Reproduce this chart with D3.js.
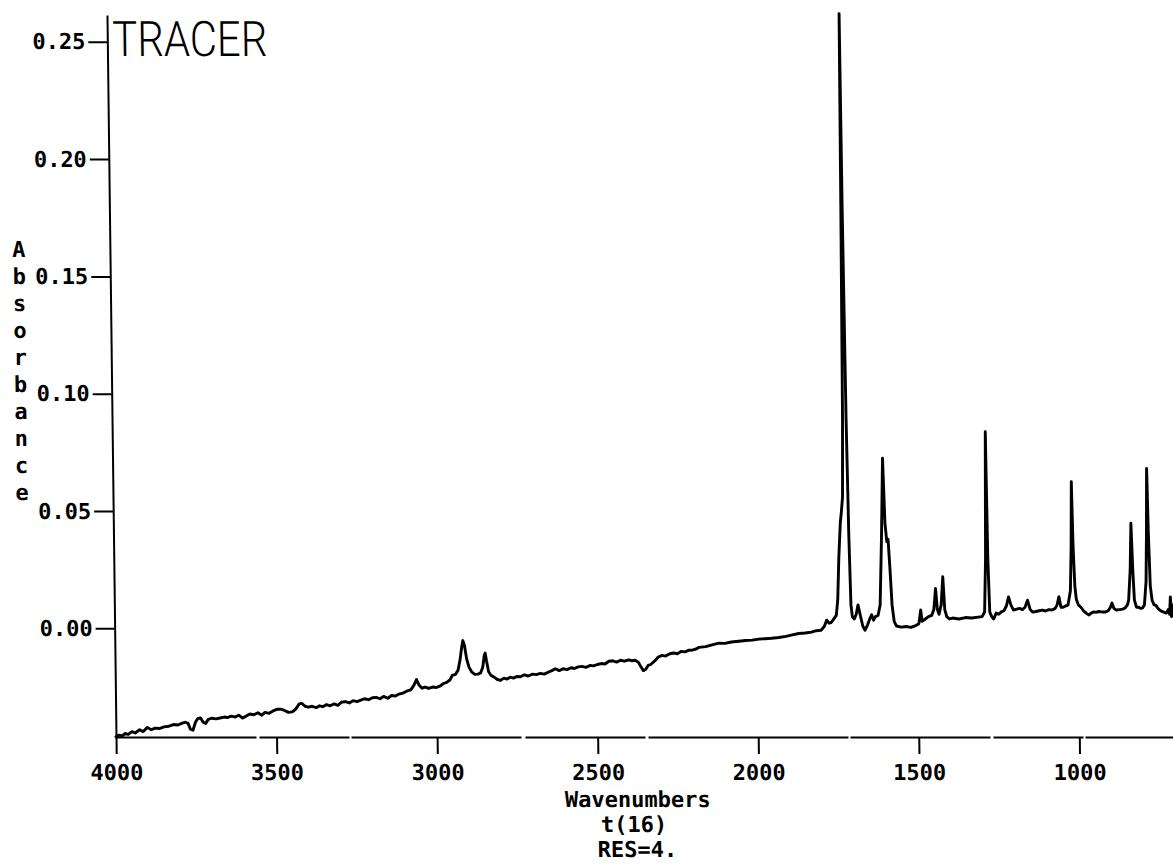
<!DOCTYPE html>
<html><head><meta charset="utf-8">
<script src="https://cdn.jsdelivr.net/npm/d3@7"></script>
<style>
html,body{margin:0;padding:0;background:#fff;}
svg{display:block;}
</style></head>
<body>
<svg id="chart" width="1173" height="864"></svg>
<script>
// ---- data ----
const wavenumbers = [
4000,3990,3980,3972,3962,3950,3940,3926,3915,3902,3890,3878,3865,3850,3835,3820,3807,3795,3783,3775,
3768,3760,3752,3745,3736,3728,3720,3712,3700,3688,3675,3662,3653,3640,3628,3617,3605,3595,3582,3570,
3557,3545,3535,3522,3510,3498,3486,3474,3462,3450,3440,3428,3420,3410,3400,3388,3375,3365,3355,3343,
3332,3319,3308,3297,3284,3272,3260,3248,3236,3225,3212,3200,3188,3176,3165,3152,3140,3128,3117,3105,
3093,3080,3070,3062,3055,3045,3035,3025,3012,3000,2988,2978,2968,2958,2950,2940,2932,2925,2920,2916,
2911,2905,2898,2890,2880,2870,2862,2855,2850,2847,2843,2837,2830,2820,2810,2800,2790,2780,2770,2760,
2750,2738,2726,2714,2700,2689,2676,2664,2650,2640,2629,2617,2605,2593,2580,2570,2558,2546,2534,2520,
2510,2498,2486,2474,2462,2450,2438,2426,2414,2400,2390,2380,2370,2362,2355,2348,2340,2332,2320,2308,
2296,2285,2272,2260,2248,2236,2224,2213,2200,2190,2181,2160,2140,2119,2100,2080,2057,2035,2015,1994,
1975,1955,1932,1910,1890,1870,1850,1830,1815,1800,1790,1782,1775,1768,1760,1752,1747,1742,1736,1732,
1728,1725,1722,1720,1718,1714,1710,1706,1702,1696,1690,1684,1678,1670,1663,1655,1648,1642,1636,1630,
1622,1615,1608,1602,1597,1592,1588,1583,1578,1572,1565,1550,1535,1520,1505,1495,1489,1485,1475,1465,
1455,1448,1442,1437,1432,1425,1419,1414,1408,1400,1390,1370,1350,1330,1310,1298,1290,1285,1281,1278,
1274,1268,1262,1254,1246,1238,1230,1222,1215,1208,1200,1190,1181,1172,1164,1156,1148,1140,1130,1120,
1110,1100,1090,1080,1070,1064,1058,1052,1045,1038,1030,1022,1018,1015,1012,1008,1004,998,990,982,
974,965,958,950,943,935,925,913,905,898,893,887,880,870,860,852,845,841,835,831,
827,823,817,810,804,798,792,786,783,780,777,773,768,762,756,750,744,738,730,724,
718,714,711,708,703,698
];
const absorbance = [
-0.0462,-0.0455,-0.0458,-0.0448,-0.0452,-0.0440,-0.0446,-0.0432,-0.0440,-0.0422,-0.0432,-0.0425,-0.0427,-0.0420,-0.0417,-0.0410,-0.0412,-0.0405,-0.0400,-0.0405,
-0.0430,-0.0434,-0.0400,-0.0385,-0.0382,-0.0400,-0.0405,-0.0388,-0.0383,-0.0386,-0.0382,-0.0378,-0.0380,-0.0374,-0.0378,-0.0370,-0.0382,-0.0375,-0.0365,-0.0368,
-0.0360,-0.0370,-0.0358,-0.0362,-0.0352,-0.0345,-0.0344,-0.0350,-0.0358,-0.0356,-0.0345,-0.0322,-0.0320,-0.0332,-0.0336,-0.0332,-0.0338,-0.0330,-0.0334,-0.0325,
-0.0330,-0.0322,-0.0328,-0.0315,-0.0312,-0.0318,-0.0308,-0.0312,-0.0306,-0.0300,-0.0304,-0.0296,-0.0294,-0.0300,-0.0290,-0.0298,-0.0286,-0.0288,-0.0280,-0.0276,
-0.0268,-0.0262,-0.0242,-0.0218,-0.0240,-0.0255,-0.0250,-0.0256,-0.0250,-0.0252,-0.0245,-0.0235,-0.0230,-0.0220,-0.0200,-0.0196,-0.0178,-0.0130,-0.0080,-0.0052,
-0.0075,-0.0130,-0.0165,-0.0185,-0.0196,-0.0195,-0.0190,-0.0165,-0.0115,-0.0105,-0.0140,-0.0185,-0.0200,-0.0208,-0.0218,-0.0222,-0.0212,-0.0216,-0.0208,-0.0212,
-0.0205,-0.0206,-0.0198,-0.0203,-0.0195,-0.0197,-0.0192,-0.0195,-0.0186,-0.0180,-0.0172,-0.0180,-0.0172,-0.0176,-0.0168,-0.0171,-0.0164,-0.0162,-0.0166,-0.0158,
-0.0160,-0.0154,-0.0150,-0.0152,-0.0140,-0.0138,-0.0144,-0.0136,-0.0140,-0.0134,-0.0138,-0.0136,-0.0145,-0.0165,-0.0180,-0.0175,-0.0158,-0.0154,-0.0140,-0.0122,
-0.0115,-0.0118,-0.0108,-0.0105,-0.0108,-0.0098,-0.0100,-0.0093,-0.0092,-0.0088,-0.0081,-0.0078,-0.0070,-0.0063,-0.0064,-0.0058,-0.0055,-0.0052,-0.0050,-0.0046,
-0.0044,-0.0042,-0.0039,-0.0034,-0.0028,-0.0022,-0.0020,-0.0016,-0.0010,-0.0008,0.0008,0.0035,0.0022,0.0025,0.0040,0.0055,0.0120,0.0300,0.0450,0.0500,
0.0560,0.0900,0.1800,0.2620,0.1800,0.0900,0.0400,0.0100,0.0050,0.0040,0.0060,0.0100,0.0060,0.0010,-0.0008,0.0015,0.0040,0.0058,0.0035,0.0050,
0.0055,0.0100,0.0400,0.0725,0.0450,0.0370,0.0380,0.0250,0.0100,0.0030,0.0010,0.0005,0.0008,0.0004,0.0012,0.0020,0.0078,0.0030,0.0040,0.0050,
0.0055,0.0080,0.0170,0.0080,0.0060,0.0100,0.0220,0.0080,0.0050,0.0040,0.0044,0.0040,0.0046,0.0044,0.0048,0.0050,0.0070,0.0300,0.0838,0.0300,
0.0070,0.0050,0.0040,0.0065,0.0060,0.0070,0.0075,0.0095,0.0134,0.0100,0.0078,0.0082,0.0085,0.0080,0.0090,0.0120,0.0080,0.0069,0.0072,0.0075,
0.0078,0.0074,0.0080,0.0078,0.0085,0.0100,0.0135,0.0090,0.0090,0.0095,0.0100,0.0160,0.0350,0.0625,0.0350,0.0180,0.0125,0.0100,0.0090,0.0075,
0.0065,0.0057,0.0065,0.0070,0.0068,0.0072,0.0070,0.0070,0.0075,0.0090,0.0108,0.0085,0.0078,0.0080,0.0082,0.0087,0.0100,0.0120,0.0250,0.0448,
0.0250,0.0120,0.0090,0.0090,0.0085,0.0087,0.0100,0.0200,0.0400,0.0682,0.0400,0.0180,0.0120,0.0100,0.0098,0.0085,0.0078,0.0072,0.0068,0.0065,
0.0080,0.0060,0.0134,0.0050,0.0100,0.0080
];
const xTickValues = [4000, 3500, 3000, 2500, 2000, 1500, 1000];
const yTickValues = [0.00, 0.05, 0.10, 0.15, 0.20, 0.25];
const titleText = "TRACER";
const yTitleText = "Absorbance";
const xTitleLines = ["Wavenumbers", "t(16)", "RES=4."];

// ---- drawing ----
const W = 1173, H = 864;
const svg = d3.select("#chart");
svg.append("rect").attr("width", W).attr("height", H).attr("fill", "#fff");

const x = d3.scaleLinear().domain([4000, 650]).range([116, 116 + 3350 * 0.3211]);
const y = d3.scaleLinear().domain([-0.0463, 0.2614]).range([737, 15]);

// slight tilt of the scanned plot
const k = 0.0125;
const g = svg.append("g")
  .attr("transform", `translate(${-k * 737},0) skewX(${Math.atan(k) * 180 / Math.PI})`);

const mono = "'DejaVu Sans Mono', 'Liberation Mono', monospace";

// y axis
const yAxis = g.append("g").attr("transform", `translate(${x(4000)},0)`)
  .call(d3.axisLeft(y).tickValues(yTickValues).tickSize(19).tickSizeOuter(0)
    .tickPadding(3).tickFormat(d3.format(".2f")));
// x axis
const xAxis = g.append("g").attr("transform", `translate(0,${y.range()[0]})`)
  .call(d3.axisBottom(x).tickValues(xTickValues).tickSize(17).tickSizeOuter(0)
    .tickPadding(10).tickFormat(d3.format("d")));

[yAxis, xAxis].forEach(a => {
  a.select(".domain").attr("stroke", "#000").attr("stroke-width", 2);
  a.selectAll(".tick line").attr("stroke", "#000").attr("stroke-width", 2);
  a.selectAll(".tick text").attr("fill", "#000")
    .style("font-family", mono).style("font-weight", "bold").style("font-size", "22px");
});
// broken plotter baseline (mostly solid with small gaps)
xAxis.select(".domain").attr("stroke-dasharray", "140 3 90 2 170 4 120 3 200 2");

// spectrum
const pts = wavenumbers.map((w, i) => [w, absorbance[i]]);
g.append("path").datum(pts)
  .attr("fill", "none").attr("stroke", "#000").attr("stroke-width", 2.9)
  .attr("stroke-linejoin", "round").attr("stroke-linecap", "round")
  .attr("d", d3.line().x(d => x(d[0])).y(d => y(d[1])));

// title
g.append("text").attr("x", 121).attr("y", 56)
  .attr("textLength", 155).attr("lengthAdjust", "spacingAndGlyphs")
  .style("font-family", "Roboto, 'DejaVu Sans', sans-serif").style("font-weight", 300)
  .style("font-size", "49px").attr("fill", "#000").text(titleText);

// vertical y title
g.append("g").selectAll("text").data(yTitleText.split("")).join("text")
  .attr("x", 25).attr("y", (d, i) => 257 + i * 27)
  .attr("text-anchor", "middle").attr("fill", "#000")
  .style("font-family", mono).style("font-weight", "bold").style("font-size", "22px")
  .text(d => d);

// x title lines
const xTitleX = [637, 633, 636];
g.append("g").selectAll("text").data(xTitleLines).join("text")
  .attr("x", (d, i) => xTitleX[i]).attr("y", (d, i) => 807 + i * 25)
  .attr("text-anchor", "middle").attr("fill", "#000")
  .style("font-family", mono).style("font-weight", "bold").style("font-size", "22px")
  .text(d => d);
</script>
</body></html>
